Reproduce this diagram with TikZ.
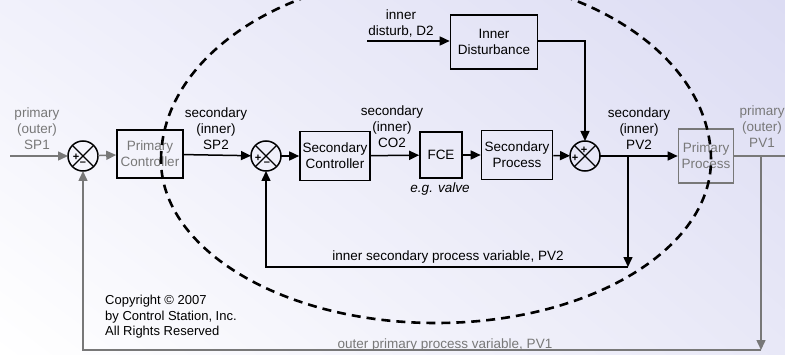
\documentclass[tikz,border=0pt]{standalone}
\usepackage{fontspec}
\setmainfont{Liberation Sans}
\usetikzlibrary{calc,arrows.meta,positioning,shadings}
\definecolor{outc}{HTML}{787878}
\definecolor{bgtl}{HTML}{F1F1FB}
\definecolor{bgtr}{HTML}{DCDCF3}
\definecolor{bgbr}{HTML}{E8E8F7}
\newcommand{\fs}{\fontsize{13.5}{16}\selectfont}
\newcommand{\sg}{\fontsize{11}{11}\selectfont\bfseries}
\tikzset{
  ar/.style={-{Triangle[length=10pt,width=9pt]},line width=1.5pt},
  box/.style={draw,line width=1.6pt,align=center,inner sep=2pt,font=\fs},
  sumj/.style={draw,circle,line width=1.5pt,minimum size=30pt,inner sep=0pt,outer sep=0pt},
  lbl/.style={align=center,font=\fs,inner sep=0pt}
}
\begin{document}
\begin{tikzpicture}[x=1pt,y=1pt]
\useasboundingbox (0,0) rectangle (785,354);
\shade[upper left=bgtl,upper right=bgtr,lower left=white,lower right=bgbr] (0,0) rectangle (785,354);
% blocks
\node[sumj] (s1) at (83,198) {};
\node[box,minimum width=66pt,minimum height=48pt,text=outc] (pc) at (150,200) {Primary\\Controller};
\node[sumj] (s2) at (266,198) {};
\node[box,minimum width=70pt,minimum height=49pt] (sc) at (335,198) {Secondary\\Controller};
\node[box,minimum width=42pt,minimum height=46pt] (fce) at (441,199) {FCE};
\node[box,minimum width=71pt,minimum height=49pt] (sp) at (517,199) {Secondary\\Process};
\node[sumj] (s3) at (585,198) {};
\node[box,minimum width=55pt,minimum height=54pt,draw=outc,text=outc] (pp) at (706,198) {Primary\\Process};
\node[box,minimum width=87pt,minimum height=54pt] (id) at (494,312) {Inner\\Disturbance};
\foreach \s in {s1,s2,s3}{\draw[line width=1.2pt] (\s.north west) -- (\s.south east) (\s.north east) -- (\s.south west);}
\node[font=\sg] at ($(s1)+(-7,-1)$) {+};
\node[font=\sg] at ($(s1)+(0,-8)$) {--};
\node[font=\sg] at ($(s2)+(-8,-2)$) {+};
\node[font=\sg] at ($(s2)+(1,-8)$) {--};
\node[font=\sg] at ($(s3)+(-10,-2)$) {+};
\node[font=\sg] at ($(s3)+(-1,6)$) {+};
% signals
\coordinate (sp1) at (10,198);
\coordinate (d2) at (367,313);
\coordinate (br2) at (628,198);
\coordinate (fb2) at (628,87);
\coordinate (br1) at (761,198);
\coordinate (fb1) at (761,4);
\coordinate (pvend) at (790,198);
\draw[ar,outc] (sp1) -- (s1);
\draw[ar,outc] (s1) -- (pc);
\draw[ar] (pc) -- (s2);
\draw[ar] (s2) -- (sc);
\draw[ar] (sc) -- (fce);
\draw[ar] (fce) -- (sp);
\draw[ar] (sp) -- (s3);
\draw[ar] (s3) -- (pp);
\draw[ar] (d2) -- (d2 -| id.west);
\draw[ar] (id.east |- d2) -| (s3);
\draw[ar] (br2) -- (fb2);
\draw[ar] (fb2) -| (s2);
\draw[outc,line width=1.5pt] (pp) -- (pvend);
\draw[ar,outc] (br1) -- (fb1);
\draw[ar,outc] (fb1) -| (s1);
% labels
\node[lbl,text=outc] (lsp1) at (37,225) {primary\\(outer)\\SP1};
\node[lbl] (lsp2) at (216,225) {secondary\\(inner)\\SP2};
\node[lbl] (lco2) at (392,227) {secondary\\(inner)\\CO2};
\node[lbl,font=\fs\itshape] (lvalve) at (440,165) {e.g. valve};
\node[lbl] (lpv2) at (639,225) {secondary\\(inner)\\PV2};
\node[lbl,text=outc] (lpv1) at (762,227) {primary\\(outer)\\PV1};
\node[lbl] (ld2) at (401,331) {inner\\disturb, D2};
\node[lbl] (lfb2) at (448,97) {inner secondary process variable, PV2};
\node[lbl,text=outc] (lfb1) at (445,9) {outer primary process variable, PV1};
\node[lbl,align=left,anchor=west,font=\fontsize{13}{15.5}\selectfont] (copy) at (105,37) {Copyright © 2007\\by Control Station, Inc.\\All Rights Reserved};
% inner loop boundary
\draw[line width=2.6pt,dash pattern=on 9pt off 6pt] (161,194) arc[start angle=180,end angle=0,x radius=275,y radius=185] arc[start angle=0,end angle=-180,x radius=275,y radius=163];
\end{tikzpicture}
\end{document}
